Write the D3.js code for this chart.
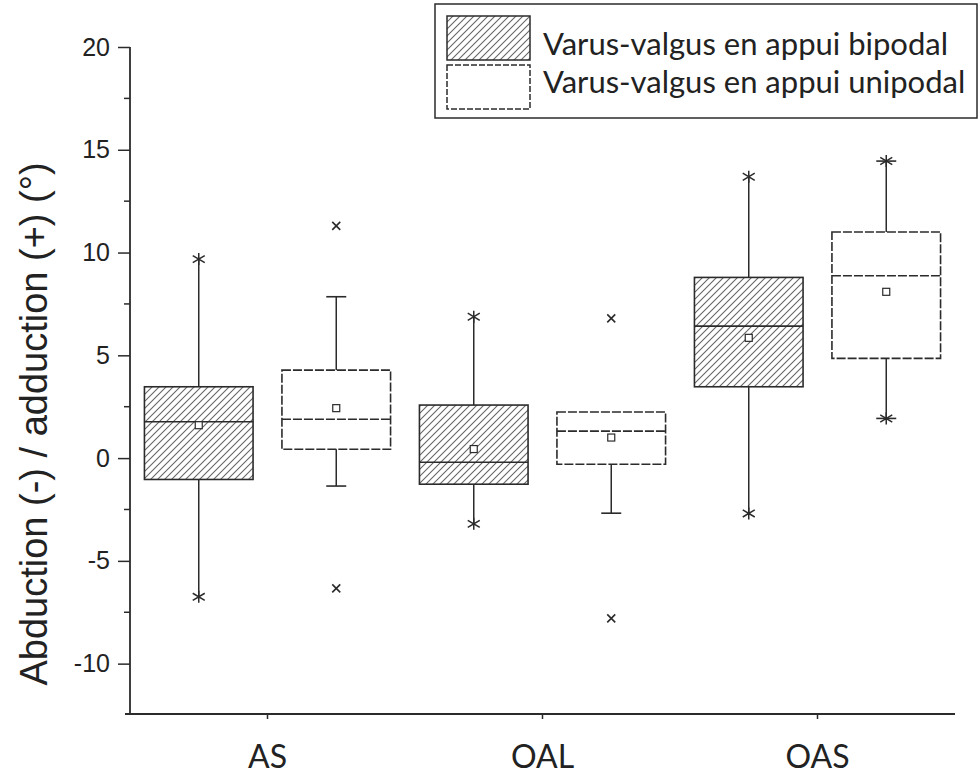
<!DOCTYPE html>
<html>
<head>
<meta charset="utf-8">
<script src="https://cdn.jsdelivr.net/npm/d3@7"></script>
<style>
  body { margin: 0; background: #fff; }
  svg { display: block; }
</style>
</head>
<body>
<div id="chart"></div>
<script>
const categories = ['AS', 'OAL', 'OAS'];
const seriesNames = ['Varus-valgus en appui bipodal', 'Varus-valgus en appui unipodal'];
const yTicks = [-10, -5, 0, 5, 10, 15, 20];

// bipodal: whiskers go to min / max (star markers)
const bipodalQ1 = [-1.04, -1.27, 3.47];
const bipodalMedian = [1.77, -0.2, 6.42];
const bipodalQ3 = [3.47, 2.58, 8.79];
const bipodalMean = [1.6, 0.44, 5.85];
const bipodalMin = [-6.75, -3.2, -2.69];
const bipodalMax = [9.68, 6.88, 13.69];

// unipodal: whiskers with caps, min / max as x markers
const unipodalQ1 = [0.43, -0.3, 4.85];
const unipodalMedian = [1.89, 1.31, 8.87];
const unipodalQ3 = [4.28, 2.24, 11.0];
const unipodalMean = [2.43, 1.0, 8.09];
const unipodalLow = [-1.36, -2.68, 1.93];
const unipodalHigh = [7.85, 2.24, 14.45];
const unipodalMin = [-6.34, -7.8, 1.93];
const unipodalMax = [11.3, 6.8, 14.45];

const width = 980;
const height = 778;
const ink = '#2b2b2b';

const svg = d3.select('#chart').append('svg')
  .attr('width', width)
  .attr('height', height);

const defs = svg.append('defs');
defs.append('pattern')
  .attr('id', 'hatch')
  .attr('patternUnits', 'userSpaceOnUse')
  .attr('width', 7)
  .attr('height', 7)
  .append('path')
    .attr('d', 'M-1,1 l2,-2 M0,7 l7,-7 M6,8 l2,-2')
    .attr('stroke', '#666')
    .attr('stroke-width', 1.1);

const x = d3.scaleBand()
  .domain(categories)
  .range([130, 955])
  .paddingInner(0)
  .paddingOuter(0);

const x1 = d3.scaleBand()
  .domain([0, 1])
  .range([0, x.bandwidth()])
  .paddingInner(0.21)
  .paddingOuter(0.105);

const y = d3.scaleLinear()
  .domain([-12.45, 20])
  .range([714, 47]);

// axes
const yAxis = svg.append('g')
  .attr('transform', `translate(${130}, 0)`)
  .call(d3.axisLeft(y).tickValues(yTicks).tickSize(12).tickPadding(8).tickFormat(d => String(d)))
  .call(g => g.select('.domain').remove());
yAxis.selectAll('line').attr('stroke', ink).attr('stroke-width', 1.5);
yAxis.selectAll('text')
  .attr('fill', '#222')
  .style('font-family', '"Liberation Sans", Arial, sans-serif')
  .style('font-size', '25px');

const minorTicks = [-7.5, -2.5, 2.5, 7.5, 12.5, 17.5];
svg.append('g')
  .selectAll('line')
  .data(minorTicks)
  .enter()
  .append('line')
    .attr('x1', 124)
    .attr('x2', 130)
    .attr('y1', d => y(d))
    .attr('y2', d => y(d))
    .attr('stroke', ink)
    .attr('stroke-width', 1.5);

svg.append('line')
  .attr('x1', 130).attr('x2', 130)
  .attr('y1', y(20)).attr('y2', 714)
  .attr('stroke', ink).attr('stroke-width', 1.8);

const xAxis = svg.append('g')
  .attr('transform', `translate(0, ${714})`)
  .call(d3.axisBottom(x).tickSize(5).tickPadding(26))
  .call(g => g.select('.domain').remove());
xAxis.selectAll('line').attr('stroke', ink).attr('stroke-width', 1.5);
xAxis.selectAll('text')
  .attr('fill', '#222')
  .style('font-family', 'Lato, "Open Sans", sans-serif')
  .style('font-size', '32px');

svg.append('line')
  .attr('x1', 125).attr('x2', 955)
  .attr('y1', 714).attr('y2', 714)
  .attr('stroke', ink).attr('stroke-width', 1.8);

svg.append('text')
  .attr('transform', `translate(${47}, ${424}) rotate(-90)`)
  .attr('text-anchor', 'middle')
  .attr('fill', '#222')
  .style('font-family', '"Liberation Sans", Arial, sans-serif')
  .style('font-size', '38px')
  .text('Abduction (-) / adduction (+) (°)');

// marker helpers
const star = (g, cx, cy) => {
  const r = 6;
  g.append('path')
    .attr('d', `M${cx - r},${cy - r * 0.6}L${cx + r},${cy + r * 0.6}M${cx - r},${cy + r * 0.6}L${cx + r},${cy - r * 0.6}M${cx},${cy - r}L${cx},${cy + r}`)
    .attr('stroke', ink)
    .attr('stroke-width', 1.5)
    .attr('fill', 'none');
};
const cross = (g, cx, cy) => {
  const r = 4;
  g.append('path')
    .attr('d', `M${cx - r},${cy - r}L${cx + r},${cy + r}M${cx - r},${cy + r}L${cx + r},${cy - r}`)
    .attr('stroke', ink)
    .attr('stroke-width', 1.6)
    .attr('fill', 'none');
};

const plot = svg.append('g');
const bw = x1.bandwidth();

categories.forEach((c, i) => {
  // bipodal
  {
    const left = x(c) + x1(0);
    const cx = left + bw / 2;
    plot.append('line')
      .attr('x1', cx).attr('x2', cx)
      .attr('y1', y(bipodalMax[i])).attr('y2', y(bipodalMin[i]))
      .attr('stroke', ink).attr('stroke-width', 1.5);
    plot.append('rect')
      .attr('x', left)
      .attr('y', y(bipodalQ3[i]))
      .attr('width', bw)
      .attr('height', y(bipodalQ1[i]) - y(bipodalQ3[i]))
      .attr('fill', '#fff');
    plot.append('rect')
      .attr('x', left)
      .attr('y', y(bipodalQ3[i]))
      .attr('width', bw)
      .attr('height', y(bipodalQ1[i]) - y(bipodalQ3[i]))
      .attr('fill', 'url(#hatch)')
      .attr('stroke', ink)
      .attr('stroke-width', 1.6);
    plot.append('line')
      .attr('x1', left).attr('x2', left + bw)
      .attr('y1', y(bipodalMedian[i])).attr('y2', y(bipodalMedian[i]))
      .attr('stroke', ink).attr('stroke-width', 1.6);
    plot.append('rect')
      .attr('x', cx - 3.5).attr('y', y(bipodalMean[i]) - 3.5)
      .attr('width', 7).attr('height', 7)
      .attr('fill', '#fff')
      .attr('stroke', ink).attr('stroke-width', 1.2);
    star(plot, cx, y(bipodalMax[i]));
    star(plot, cx, y(bipodalMin[i]));
  }
  // unipodal
  {
    const left = x(c) + x1(1);
    const cx = left + bw / 2;
    plot.append('line')
      .attr('x1', cx).attr('x2', cx)
      .attr('y1', y(unipodalHigh[i])).attr('y2', y(unipodalLow[i]))
      .attr('stroke', ink).attr('stroke-width', 1.5);
    [unipodalHigh[i], unipodalLow[i]].forEach(v => {
      if (v === unipodalQ3[i]) return;
      plot.append('line')
        .attr('x1', cx - 10).attr('x2', cx + 10)
        .attr('y1', y(v)).attr('y2', y(v))
        .attr('stroke', ink).attr('stroke-width', 1.6);
    });
    plot.append('rect')
      .attr('x', left)
      .attr('y', y(unipodalQ3[i]))
      .attr('width', bw)
      .attr('height', y(unipodalQ1[i]) - y(unipodalQ3[i]))
      .attr('fill', '#fff')
      .attr('stroke', ink)
      .attr('stroke-width', 1.6)
      .attr('stroke-dasharray', '9,2');
    plot.append('line')
      .attr('x1', left).attr('x2', left + bw)
      .attr('y1', y(unipodalMedian[i])).attr('y2', y(unipodalMedian[i]))
      .attr('stroke', ink).attr('stroke-width', 1.6)
      .attr('stroke-dasharray', '9,2');
    plot.append('rect')
      .attr('x', cx - 3.5).attr('y', y(unipodalMean[i]) - 3.5)
      .attr('width', 7).attr('height', 7)
      .attr('fill', '#fff')
      .attr('stroke', ink).attr('stroke-width', 1.2);
    if (unipodalMax[i] === unipodalHigh[i]) star(plot, cx, y(unipodalMax[i]));
    else cross(plot, cx, y(unipodalMax[i]));
    if (unipodalMin[i] === unipodalLow[i]) star(plot, cx, y(unipodalMin[i]));
    else cross(plot, cx, y(unipodalMin[i]));
  }
});

// legend
const legend = svg.append('g');
legend.append('rect')
  .attr('x', 435).attr('y', 4)
  .attr('width', 542).attr('height', 114)
  .attr('fill', '#fff')
  .attr('stroke', ink)
  .attr('stroke-width', 1.5);
seriesNames.forEach((s, i) => {
  const ly = 16 + i * 49;
  legend.append('rect')
    .attr('x', 447).attr('y', ly)
    .attr('width', 83).attr('height', 44)
    .attr('fill', i === 0 ? 'url(#hatch)' : '#fff')
    .attr('stroke', ink)
    .attr('stroke-width', 1.5)
    .attr('stroke-dasharray', i === 0 ? null : '6,2');
  legend.append('text')
    .attr('x', 543)
    .attr('y', 55 + i * 38)
    .attr('fill', '#222')
    .style('font-family', 'Lato, "Open Sans", sans-serif')
    .style('font-size', '31px')
    .text(s);
});
</script>
</body>
</html>
